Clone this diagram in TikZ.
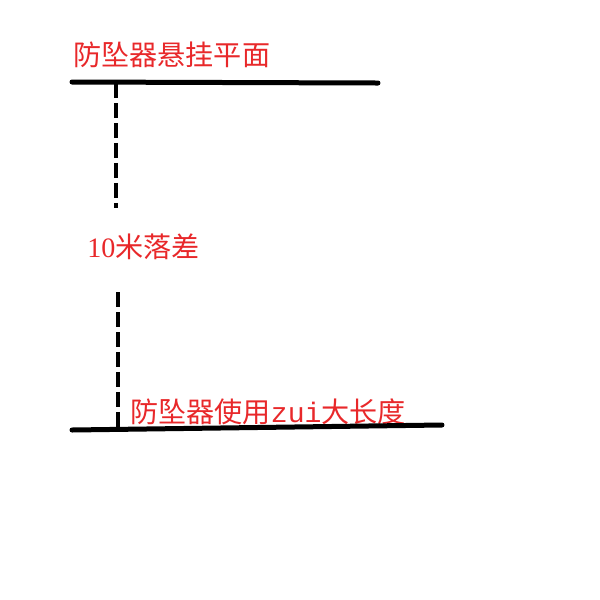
\documentclass[tikz,border=0pt]{standalone}
\usepackage{fontspec}
\usepackage{tikz}
\usetikzlibrary{positioning, calc}
\newfontfamily\cjk{Noto Sans CJK SC}
\newfontfamily\latinmono{Liberation Mono}
\newfontfamily\latinserif{Liberation Serif}
\definecolor{labelred}{RGB}{232,40,42}

\begin{document}
\begin{tikzpicture}[x=0.02cm, y=-0.02cm,
        plane/.style={line width=0.1cm, line cap=round},
        drop/.style={line width=0.1cm, dash pattern=on 0.3cm off 0.1cm},
        tag/.style={anchor=west, inner sep=0pt, text=labelred, font=\cjk\fontsize{16pt}{16pt}\selectfont}]
        \useasboundingbox (0,0) rectangle (600,600);

        \node[tag] (hang) at (73,55) {防坠器悬挂平面};
        \node[tag] (fall) at (87,247) {{\latinserif 10}米落差};
        \node[tag] (use) at (130,412) {防坠器使用{\latinmono zui}大长度};

        \coordinate (hangL) at (72,82);
        \coordinate (hangR) at (378,83);
        \coordinate (useL) at (72,430);
        \coordinate (useR) at (442,425);
        \coordinate (topA) at (116,83);
        \coordinate (topB) at (116,208);
        \coordinate (lowA) at (118,292);
        \coordinate (lowB) at (118,427);

        \draw[plane] (hangL) -- (hangR);
        \draw[plane] (useL) -- (useR);
        \draw[drop] (topA) -- (topB);
        \draw[drop] (lowA) -- (lowB);
    \end{tikzpicture}
\end{document}
